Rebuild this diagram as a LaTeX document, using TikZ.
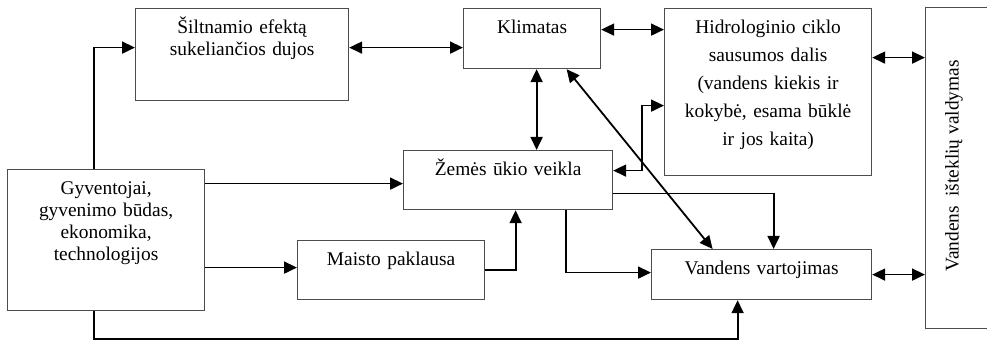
\documentclass[tikz,border=0pt]{standalone}
\usepackage{fontspec}
\setmainfont{Liberation Serif}
\usepackage{tikz}
\usetikzlibrary{arrows.meta, positioning}

\tikzset{
	box/.style={draw=black!70, line width=0.6pt, rectangle, inner sep=0pt, anchor=north west},
	lbl/.style={anchor=base, yshift=-13pt, align=center, inner sep=0pt, text width=#1, font=\fontsize{9.7}{11}\selectfont},
}

\begin{document}
\begin{tikzpicture}[->, >={Triangle[length=6.5pt, width=6pt]}, line width=0.9pt, x=0.5pt, y=-0.5pt]
	\useasboundingbox (0,0) rectangle (987,340);
	
	% Boxes
	\node[box, minimum width=106.5pt, minimum height=46pt, label={[lbl=100pt]north:{Šiltnamio efektą\\sukeliančios dujos}}] (silt) at (135,8) {};
	\node[box, minimum width=68.5pt, minimum height=30pt, label={[lbl=64pt]north:{Klimatas}}] (clim) at (463,8) {};
	\node[box, minimum width=103.5pt, minimum height=83.5pt, label={[lbl=100pt, font=\fontsize{9.7}{14}\selectfont]north:{Hidrologinio ciklo\\sausumos dalis\\(vandens kiekis ir\\kokybė, esama būklė\\ir jos kaita)}}] (hidro) at (664,8) {};
	\node[box, minimum width=33pt, minimum height=160.5pt] (valdt) at (925,7) {};
	\node[rotate=90, inner sep=0pt, font=\fontsize{9.7}{11}\selectfont] (valdtxt) at (954,166) {Vandens\ \ išteklių valdymas};
	\node[box, minimum width=98.5pt, minimum height=70.5pt, label={[lbl=94pt]north:{Gyventojai,\\gyvenimo būdas,\\ekonomika,\\technologijos}}] (gyv) at (7,169) {};
	\node[box, minimum width=104.5pt, minimum height=29.5pt, label={[lbl=100pt]north:{Žemės ūkio veikla}}] (zem) at (403,150) {};
	\node[box, minimum width=93.5pt, minimum height=29.5pt, label={[lbl=90pt]north:{Maisto paklausa}}] (maist) at (297,240) {};
	\node[box, minimum width=110pt, minimum height=25pt, label={[lbl=106pt]north:{Vandens vartojimas}}] (vv) at (651,249) {};
	
	% Edges
	\draw ([xshift=-6.25pt]gyv.north) |- ([yshift=3.5pt]silt.west);
	\draw[<->] ([yshift=3.5pt]silt.east) -- ([yshift=-4.5pt]clim.west);
	\draw[<->] ([yshift=4.5pt]clim.east) -- ([yshift=31.25pt]hidro.west);
	\draw[<->] ([yshift=17.25pt]hidro.east) -- ([yshift=55.25pt]valdt.west);
	\draw[<->] (vv.east) -- (vv.east -| valdt.west);
	\draw[<->] ([xshift=2.25pt]clim.south) -- ([xshift=14.25pt]zem.north);
	\draw[<->] ([xshift=17.25pt]clim.south) -- ([xshift=-24.5pt]vv.north);
	\draw[<->] ([yshift=4.75pt]zem.east) -- ++(14.5pt,0) |- ([yshift=-6.75pt]hidro.west);
	\draw ([yshift=-6.75pt]zem.east) -| ([xshift=6pt]vv.north);
	\draw ([xshift=28.75pt]zem.south) |- ([yshift=1pt]vv.west);
	\draw ([yshift=28.25pt]gyv.east) -- ([yshift=-1.75pt]zem.west);
	\draw ([yshift=-13.75pt]gyv.east) -- ([yshift=1.25pt]maist.west);
	\draw (maist.east) -| ([xshift=3.75pt]zem.south);
	\draw ([xshift=-6.25pt]gyv.south) -- ++(0,-14pt) -| ([xshift=-12pt]vv.south);
	
\end{tikzpicture}
\end{document}
